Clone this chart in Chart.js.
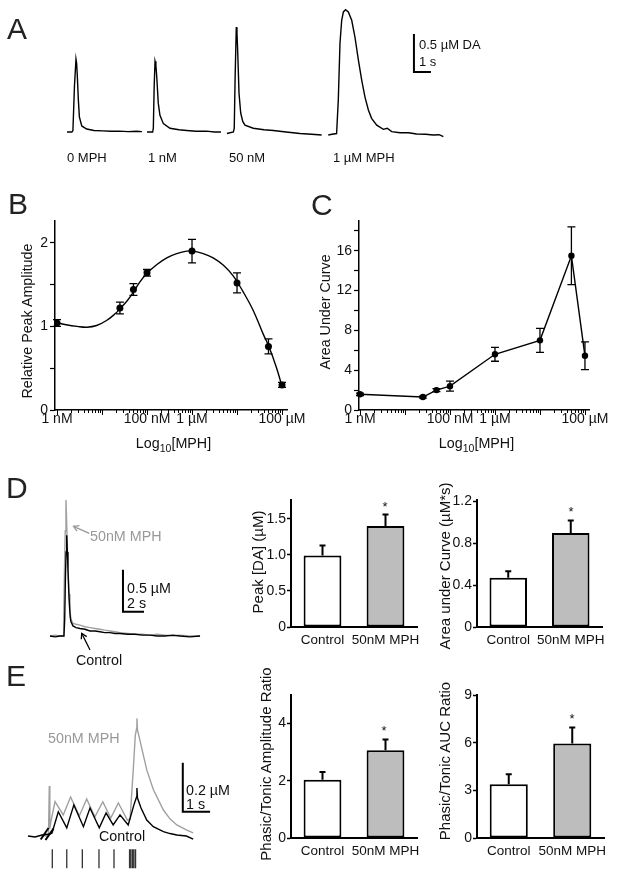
<!DOCTYPE html>
<html lang="en">
<head>
<meta charset="utf-8">
<title>MPH and dopamine release</title>
<script src="https://cdn.jsdelivr.net/npm/chart.js@4.4.1/dist/chart.umd.min.js"></script>
<style>
  html, body { margin: 0; padding: 0; background: #fff; }
  #page { position: relative; width: 617px; height: 878px; overflow: hidden;
          font-family: 'Liberation Sans', Arial, sans-serif; color: #111; }
  #page canvas { position: absolute; }
  .t { position: absolute; white-space: nowrap; line-height: 1; transform: translateY(-50%); }
  .c { position: absolute; white-space: nowrap; line-height: 1; transform: translate(-50%, -50%); }
  .v { position: absolute; white-space: nowrap; line-height: 1; transform: translate(-50%, -50%) rotate(-90deg); }
  .letter { font-size: 30px; color: #222; }
  .gray { color: #999; }
  .sub { font-size: 10.5px; position: relative; top: 4px; }
</style>
</head>
<body>
<div id="page">
  <canvas id="chartA" width="390" height="140" style="left:60px;top:0"></canvas>
  <canvas id="chartB" width="310" height="245" style="left:0;top:200px"></canvas>
  <canvas id="chartC" width="317" height="245" style="left:300px;top:200px"></canvas>
  <canvas id="chartD" width="180" height="160" style="left:40px;top:490px"></canvas>
  <canvas id="chartD1" width="175" height="170" style="left:250px;top:480px"></canvas>
  <canvas id="chartD2" width="187" height="170" style="left:430px;top:480px"></canvas>
  <canvas id="chartE" width="200" height="175" style="left:20px;top:700px"></canvas>
  <canvas id="chartE1" width="175" height="195" style="left:250px;top:680px"></canvas>
  <canvas id="chartE2" width="187" height="195" style="left:430px;top:680px"></canvas>

  <svg width="617" height="878" style="position:absolute;left:0;top:0" fill="none">
    <g stroke="#999" stroke-width="1.3">
      <line x1="89.3" y1="533.3" x2="73.5" y2="526.3"/>
      <polyline points="77,531.1 73.5,526.3 79.5,525.7"/>
    </g>
    <g stroke="#000" stroke-width="1.3">
      <line x1="90" y1="650" x2="81.7" y2="633.3"/>
      <polyline points="81.3,639.3 81.7,633.3 86.7,636.6"/>
    </g>
    <g stroke="#000" stroke-width="2">
      <line x1="40.7" y1="839.5" x2="48.5" y2="828"/>
      <line x1="45.5" y1="840" x2="53.5" y2="828.5"/>
    </g>
  </svg>

  <div class="t letter" style="left:7px;top:29px">A</div>
  <div class="t letter" style="left:8px;top:204px">B</div>
  <div class="t letter" style="left:311px;top:205px">C</div>
  <div class="t letter" style="left:6px;top:488px">D</div>
  <div class="t letter" style="left:6px;top:676px">E</div>

  <div class="t" style="left:67px;top:157px;font-size:13px">0 MPH</div>
  <div class="t" style="left:148px;top:157px;font-size:13px">1 nM</div>
  <div class="t" style="left:229px;top:157px;font-size:13px">50 nM</div>
  <div class="t" style="left:333px;top:157px;font-size:13px">1 µM MPH</div>
  <div class="t" style="left:419px;top:44px;font-size:13px">0.5 µM DA</div>
  <div class="t" style="left:419px;top:61px;font-size:13px">1 s</div>

  <div class="v" style="left:27px;top:321px;font-size:14.3px">Relative Peak Amplitude</div>
  <div class="v" style="left:325px;top:312px;font-size:14.3px">Area Under Curve</div>
  <div class="c" style="left:173.5px;top:443px;font-size:14.3px">Log<span class="sub">10</span>[MPH]</div>
  <div class="c" style="left:476.5px;top:443px;font-size:14.3px">Log<span class="sub">10</span>[MPH]</div>

  <div class="t gray" style="left:90px;top:536px;font-size:14.3px">50nM MPH</div>
  <div class="t" style="left:127px;top:588px;font-size:14.3px">0.5 µM</div>
  <div class="t" style="left:127px;top:603px;font-size:14.3px">2 s</div>
  <div class="t" style="left:76px;top:660px;font-size:14.3px">Control</div>

  <div class="t gray" style="left:48px;top:738px;font-size:14.3px">50nM MPH</div>
  <div class="t" style="left:186px;top:790px;font-size:14.3px">0.2 µM</div>
  <div class="t" style="left:186px;top:804px;font-size:14.3px">1 s</div>
  <div class="t" style="left:99px;top:836px;font-size:14.3px">Control</div>

  <div class="v" style="left:257px;top:562px;font-size:15px">Peak [DA] (µM)</div>
  <div class="v" style="left:444px;top:566px;font-size:15px">Area under Curve (µM*s)</div>
  <div class="v" style="left:265px;top:764px;font-size:15px">Phasic/Tonic Amplitude Ratio</div>
  <div class="v" style="left:444px;top:761px;font-size:15px">Phasic/Tonic AUC Ratio</div>

  <div class="c" style="left:385px;top:506px;font-size:13px">*</div>
  <div class="c" style="left:571px;top:511px;font-size:13px">*</div>
  <div class="c" style="left:384px;top:730px;font-size:13px">*</div>
  <div class="c" style="left:572px;top:718px;font-size:13px">*</div>
</div>

<script>
// ---- Panel A: example traces, time (s) and [DA] (µM) ----
const aTime0 = [0.41, 0.7, 0.76, 0.85, 0.94, 0.98, 1.02, 1.08, 1.14, 1.28, 1.57, 2.0, 2.5, 3.0, 3.5, 4.0, 4.5, 4.82];
const aDA0   = [0.0, 0.0, 0.02, 0.6, 0.96, 0.9, 0.73, 0.42, 0.2, 0.08, 0.04, 0.02, 0.015, 0.01, 0.012, 0.005, 0.01, 0.005];
const aTime1 = [5.12, 5.45, 5.49, 5.54, 5.59, 5.64, 5.69, 5.78, 5.88, 6.08, 6.47, 7.0, 7.45, 8.0, 8.6, 9.1, 9.47];
const aDA1   = [0.0, 0.0, 0.05, 0.6, 0.93, 0.88, 0.73, 0.38, 0.22, 0.11, 0.05, 0.03, 0.02, 0.01, 0.012, 0.0, 0.0];
const aTime50 = [9.82, 10.2, 10.25, 10.3, 10.37, 10.41, 10.45, 10.53, 10.63, 10.75, 10.88, 11.37, 12.0, 12.55, 13.3, 14.12, 14.8, 15.39];
const aDA50   = [-0.02, 0.0, 0.05, 0.7, 1.38, 1.3, 1.08, 0.51, 0.25, 0.14, 0.09, 0.05, 0.03, 0.02, 0.0, -0.02, -0.03, -0.04];
const aTime1u = [15.78, 16.0, 16.27, 16.37, 16.47, 16.57, 16.67, 16.8, 16.96, 17.16, 17.35, 17.55, 17.75, 17.94, 18.14, 18.33, 18.63, 19.02, 19.25, 19.51, 20.0, 20.5, 20.98, 21.5, 21.96, 22.3, 22.55];
const aDA1u   = [-0.04, -0.03, -0.02, 0.42, 1.17, 1.47, 1.58, 1.61, 1.58, 1.47, 1.25, 0.95, 0.68, 0.46, 0.29, 0.18, 0.09, 0.035, 0.05, 0.005, -0.01, -0.01, -0.026, -0.03, -0.04, -0.035, -0.06];

// ---- Panels B/C: MPH concentration (nM) ----
const mphConc = [1, 25, 50, 100, 1000, 10000, 50000, 100000];
const peakRel = [1.04, 1.22, 1.44, 1.64, 1.90, 1.52, 0.76, 0.30];
const peakSem = [0.04, 0.07, 0.07, 0.04, 0.14, 0.12, 0.09, 0.03];
const fitConc = [1, 1.6, 2.8, 4.6, 7.6, 12.6, 19.5, 25, 35.5, 50, 69, 98, 166, 275, 457, 760, 1070, 1780, 2950, 5000, 8300, 13800, 22900, 38000, 50000, 76000, 100000];
const fitRel  = [1.044, 1.02, 1.0, 0.99, 1.01, 1.07, 1.15, 1.21, 1.30, 1.41, 1.53, 1.63, 1.74, 1.82, 1.87, 1.90, 1.90, 1.87, 1.82, 1.73, 1.60, 1.41, 1.19, 0.91, 0.77, 0.50, 0.28];
const aucVal = [1.58, 1.3, 2.0, 2.4, 5.6, 7.0, 15.5, 5.45];
const aucSem = [0.12, 0.1, 0.15, 0.5, 0.7, 1.2, 2.9, 1.4];

const logMajor = [1, 10, 100, 1000, 10000, 100000];
const logLabels = { 1: '1 nM', 100: '100 nM', 1000: '1 µM', 100000: '100 µM' };
const bTicksY = [0, 0.5, 1, 1.5, 2];
const bLabelsY = [0, 1, 2];
const cTicksY = [0, 2, 4, 6, 8, 10, 12, 14, 16, 18];
const cLabelsY = [0, 4, 8, 12, 16];

// ---- Panel D: single pulse, control vs 50 nM MPH ----
const dCtlTime = [0, 0.5, 0.95, 1.33, 1.4, 1.47, 1.53, 1.59, 1.65, 1.71, 1.78, 1.86, 1.93, 2.0, 2.19, 2.48, 2.86, 3.33, 3.81, 4.3, 4.76, 5.2, 5.71, 6.2, 6.67, 7.4, 8.1, 8.8, 9.52, 10.2, 10.95, 11.7, 12.38, 13.3, 14.29];
const dCtlDA   = [0, -0.01, 0, 0, 0.2, 0.7, 1.0, 1.2, 1.0, 0.8, 0.55, 0.35, 0.22, 0.17, 0.12, 0.1, 0.09, 0.08, 0.06, 0.06, 0.05, 0.04, 0.04, 0.03, 0.03, 0.02, 0.02, 0.01, 0.01, 0.0, 0.0, 0.01, 0.0, -0.01, 0.0];
const dMphTime = [0, 0.5, 0.95, 1.24, 1.3, 1.38, 1.45, 1.52, 1.6, 1.67, 1.75, 1.81, 1.9, 2.0, 2.19, 2.48, 2.86, 3.33, 3.81, 4.3, 4.76, 5.2, 5.71, 6.2, 6.67, 7.4, 8.1, 8.8, 9.52, 10.2, 10.95, 11.7, 12.38, 13.3, 14.29];
const dMphDA   = [0, 0.01, 0, 0, 0.2, 0.8, 1.25, 1.62, 1.3, 1.0, 0.7, 0.5, 0.3, 0.2, 0.15, 0.14, 0.13, 0.11, 0.1, 0.09, 0.08, 0.07, 0.06, 0.05, 0.04, 0.03, 0.02, 0.02, 0.01, 0.02, 0.01, 0.0, 0.01, 0.0, 0.0];
const dGroups = ['Control', '50nM MPH'];
const dPeak = [0.99, 1.40];
const dPeakSem = [0.14, 0.16];
const dAuc = [0.47, 0.895];
const dAucSem = [0.06, 0.12];
const d1Ticks = [0, 0.5, 1.0, 1.5];
const d2Ticks = [0, 0.4, 0.8, 1.2];

// ---- Panel E: tonic train then phasic burst ----
const eCtlTime = [0, 0.26, 0.51, 0.81, 0.88, 1.11, 1.42, 1.68, 2.03, 2.27, 2.61, 2.86, 3.12, 3.37, 3.67, 3.88, 3.98, 3.99, 4.01, 4.14, 4.35, 4.59, 4.96, 5.2, 5.45, 5.8, 6.05];
const eCtlDA   = [0.0, -0.004, 0.004, 0.008, 0.012, 0.099, 0.033, 0.127, 0.038, 0.114, 0.033, 0.094, 0.045, 0.086, 0.045, 0.127, 0.16, 0.196, 0.155, 0.114, 0.065, 0.038, 0.018, 0.01, 0.004, 0.0, -0.013];
const eMphTime = [0.6, 0.75, 0.78, 0.8, 0.84, 0.99, 1.29, 1.56, 1.88, 2.15, 2.45, 2.74, 3.03, 3.31, 3.64, 3.74, 3.85, 3.93, 3.98, 3.99, 4.01, 4.1, 4.35, 4.59, 4.96, 5.2, 5.45, 5.8, 6.05];
const eMphDA   = [0.0, 0.0, 0.204, 0.03, 0.06, 0.14, 0.086, 0.159, 0.082, 0.151, 0.078, 0.14, 0.073, 0.135, 0.065, 0.069, 0.26, 0.41, 0.44, 0.48, 0.433, 0.39, 0.27, 0.19, 0.106, 0.07, 0.045, 0.025, 0.013];
const eStimTimes = [0.89, 1.42, 1.99, 2.6, 3.15, 3.72, 3.77, 3.83, 3.88, 3.94];
const eAmpRatio = [2.04, 3.07];
const eAmpSem = [0.27, 0.37];
const eAucRatio = [3.38, 5.95];
const eAucSem = [0.63, 1.01];
const e1Ticks = [0, 2, 4];
const e2Ticks = [0, 3, 6, 9];

const BLACK = '#000';
const GREY_TRACE = '#a0a0a0';
const GREY_BAR = '#bdbdbd';
const FONT = "'Liberation Sans', Arial, sans-serif";

Chart.defaults.font.family = FONT;
Chart.defaults.color = '#111';

const pts = (xs, ys) => xs.map((x, i) => ({ x: x, y: ys[i] }));

// upper (bars) or two-sided (points) error bars, values from dataset.errors
const errorBars = {
    id: 'errorBars',
    afterDatasetsDraw(chart) {
        const ctx = chart.ctx;
        chart.data.datasets.forEach((ds, i) => {
            if (!ds.errors) return;
            const meta = chart.getDatasetMeta(i);
            const ys = chart.scales[meta.yAxisID];
            const cap = ds.capHalf || 4;
            ctx.save();
            ctx.strokeStyle = BLACK;
            ctx.lineWidth = ds.errWidth || 1.3;
            meta.data.forEach((el, j) => {
                const raw = ds.data[j];
                const v = typeof raw === 'number' ? raw : raw.y;
                const top = ys.getPixelForValue(v + ds.errors[j]);
                const bot = ds.upOnly ? el.y : ys.getPixelForValue(v - ds.errors[j]);
                ctx.beginPath();
                ctx.moveTo(el.x, bot); ctx.lineTo(el.x, top);
                ctx.moveTo(el.x - cap, top); ctx.lineTo(el.x + cap, top);
                if (!ds.upOnly) { ctx.moveTo(el.x - cap, bot); ctx.lineTo(el.x + cap, bot); }
                ctx.stroke();
            });
            ctx.restore();
        });
    }
};

// short ticks under a log axis, longer at each decade
const logTickMarks = {
    id: 'logTickMarks',
    afterDraw(chart) {
        const s = chart.scales.x;
        if (!s || s.type !== 'logarithmic') return;
        const ctx = chart.ctx;
        ctx.save();
        ctx.strokeStyle = BLACK;
        ctx.lineWidth = 1;
        s.ticks.forEach(t => {
            const x = Math.round(s.getPixelForValue(t.value)) + 0.5;
            const len = logMajor.includes(t.value) ? 5 : 3;
            ctx.beginPath();
            ctx.moveTo(x, s.top);
            ctx.lineTo(x, s.top + len);
            ctx.stroke();
        });
        ctx.restore();
    }
};

Chart.register(errorBars, logTickMarks);

// fixes the plot area of a chart to a page rectangle
function plotArea(box, area) {
    return {
        padding: { top: area.t - box.y, right: box.x + box.w - area.r, left: 0, bottom: 0 },
        yFit: s => { s.width = area.l - box.x; s.paddingTop = 0; s.paddingBottom = 0; },
        xFit: s => { s.height = box.y + box.h - area.b; s.paddingLeft = 0; s.paddingRight = 0; }
    };
}

function baseOptions(pad) {
    return {
        responsive: false,
        animation: false,
        events: [],
        layout: { padding: pad, autoPadding: false },
        plugins: { legend: { display: false }, tooltip: { enabled: false } }
    };
}

function traceChart(id, xMin, xMax, yMin, yMax, datasets) {
    const opts = baseOptions(0);
    opts.scales = {
        x: { type: 'linear', display: false, min: xMin, max: xMax },
        y: { type: 'linear', display: false, min: yMin, max: yMax }
    };
    return new Chart(document.getElementById(id), { type: 'line', data: { datasets: datasets }, options: opts });
}

function traceSet(data, color, width) {
    return { data: data, borderColor: color, borderWidth: width || 1.4, pointRadius: 0, fill: false,
             tension: 0, clip: false, spanGaps: false };
}

function scaleBar(t, v, dt, dv) {
    return traceSet([{ x: t, y: v + dv }, { x: t, y: v }, { x: t + dt, y: v }], BLACK, 2);
}

// Panel A
traceChart('chartA', 0, 390 / 17, -0.105, 1.737, [
    traceSet(pts(aTime0, aDA0), BLACK),
    traceSet(pts(aTime1, aDA1), BLACK),
    traceSet(pts(aTime50, aDA50), BLACK),
    traceSet(pts(aTime1u, aDA1u), BLACK),
    scaleBar(20.82, 0.79, 1, 0.5)
]);

// Panels B and C: dose response on a log axis
function logTickList(min, max) {
    const out = [];
    logMajor.forEach(d => {
        for (let k = 1; k < 10; k++) {
            const v = d * k;
            if (v >= min && v <= max) out.push(v);
        }
    });
    return out;
}

function doseChart(id, box, area, xMin, xMax, yMax, yTicks, yLabels, datasets) {
    const pa = plotArea(box, area);
    const opts = baseOptions(pa.padding);
    opts.scales = {
        x: {
            type: 'logarithmic', min: xMin, max: xMax,
            afterBuildTicks: s => { s.ticks = logTickList(xMin, xMax).map(v => ({ value: v })); },
            afterFit: pa.xFit,
            ticks: { autoSkip: false, maxRotation: 0, padding: 1, font: { size: 14 }, color: '#111',
                     callback: v => logLabels[v] || '' },
            grid: { display: true, drawOnChartArea: false, drawTicks: false },
            border: { display: true, color: BLACK, width: 1.5 }
        },
        y: {
            type: 'linear', min: 0, max: yMax,
            afterBuildTicks: s => { s.ticks = yTicks.map(v => ({ value: v })); },
            afterFit: pa.yFit,
            ticks: { autoSkip: false, padding: 2, font: { size: 14 }, color: '#111',
                     callback: v => yLabels.includes(v) ? String(v) : '' },
            grid: { display: true, drawOnChartArea: false, drawTicks: true, tickLength: 5,
                    tickColor: BLACK, tickWidth: 1.2 },
            border: { display: true, color: BLACK, width: 1.5 }
        }
    };
    return new Chart(document.getElementById(id), { type: 'line', data: { datasets: datasets }, options: opts });
}

doseChart('chartB', { x: 0, y: 200, w: 310, h: 245 }, { l: 55, t: 221, r: 287, b: 410 },
    0.903, 129000, 2.26, bTicksY, bLabelsY, [
        { data: pts(mphConc, peakRel), showLine: false, pointRadius: 3.5, pointBackgroundColor: BLACK,
          pointBorderWidth: 0, errors: peakSem, capHalf: 4 },
        { data: pts(fitConc, fitRel), borderColor: BLACK, borderWidth: 1.4, pointRadius: 0,
          tension: 0.4, fill: false, clip: false }
    ]);

doseChart('chartC', { x: 300, y: 200, w: 317, h: 245 }, { l: 359, t: 221, r: 589, b: 410 },
    0.95, 123000, 19.0, cTicksY, cLabelsY, [
        { data: pts(mphConc, aucVal), borderColor: BLACK, borderWidth: 1.4, tension: 0, fill: false,
          pointRadius: 3.2, pointBackgroundColor: BLACK, pointBorderWidth: 0, errors: aucSem, capHalf: 4, clip: false }
    ]);

// Panel D traces
traceChart('chartD', -10 / 10.5, 170 / 10.5, -14 / 84, 146 / 84, [
    traceSet(pts(dCtlTime, dCtlDA), BLACK),
    traceSet(pts(dMphTime, dMphDA), GREY_TRACE),
    scaleBar(6.95, 0.29, 2, 0.5)
]);

// Panel E traces with stimulus markers
const stimMarks = [];
eStimTimes.forEach(t => {
    stimMarks.push({ x: t, y: -0.054 }, { x: t, y: -0.132 }, { x: t, y: null });
});
traceChart('chartE', -8 / 27.3, 192 / 27.3, -39 / 245, 136 / 245, [
    traceSet(pts(eCtlTime, eCtlDA), BLACK),
    traceSet(pts(eMphTime, eMphDA), GREY_TRACE),
    scaleBar(5.67, 0.099, 1, 0.2),
    traceSet(stimMarks, '#333', 1.3)
]);

// Bar panels
function barChart(id, box, area, values, errs, yMax, yTicks, decimals) {
    const pa = plotArea(box, area);
    const opts = baseOptions(pa.padding);
    opts.scales = {
        x: {
            type: 'category', afterFit: pa.xFit,
            ticks: { autoSkip: false, padding: 5, font: { size: 13.5 }, color: '#111', maxRotation: 0, minRotation: 0 },
            grid: { display: true, drawOnChartArea: false, drawTicks: false },
            border: { display: true, color: BLACK, width: 2 }
        },
        y: {
            type: 'linear', min: 0, max: yMax,
            afterBuildTicks: s => { s.ticks = yTicks.map(v => ({ value: v })); },
            afterFit: pa.yFit,
            ticks: { padding: 1, font: { size: 14 }, color: '#111',
                     callback: v => v === 0 ? '0' : v.toFixed(decimals) },
            grid: { display: true, drawOnChartArea: false, drawTicks: true, tickLength: 4,
                    tickColor: BLACK, tickWidth: 1.5 },
            border: { display: true, color: BLACK, width: 2 }
        }
    };
    return new Chart(document.getElementById(id), {
        type: 'bar',
        data: {
            labels: dGroups,
            datasets: [{
                data: values, backgroundColor: ['#ffffff', GREY_BAR], borderColor: BLACK, borderWidth: 2,
                borderSkipped: false, barPercentage: 0.6, categoryPercentage: 1.0,
                errors: errs, upOnly: true, capHalf: 3, errWidth: 2
            }]
        },
        options: opts
    });
}

barChart('chartD1', { x: 250, y: 480, w: 175, h: 170 }, { l: 291, t: 500, r: 417, b: 627 },
    dPeak, dPeakSem, 1.76, d1Ticks, 1);
barChart('chartD2', { x: 430, y: 480, w: 187, h: 170 }, { l: 477, t: 500, r: 602, b: 627 },
    dAuc, dAucSem, 1.21, d2Ticks, 1);
barChart('chartE1', { x: 250, y: 680, w: 175, h: 195 }, { l: 291, t: 695, r: 417, b: 838 },
    eAmpRatio, eAmpSem, 5, e1Ticks, 0);
barChart('chartE2', { x: 430, y: 680, w: 187, h: 195 }, { l: 477, t: 695, r: 604, b: 838 },
    eAucRatio, eAucSem, 9, e2Ticks, 0);
</script>
</body>
</html>
